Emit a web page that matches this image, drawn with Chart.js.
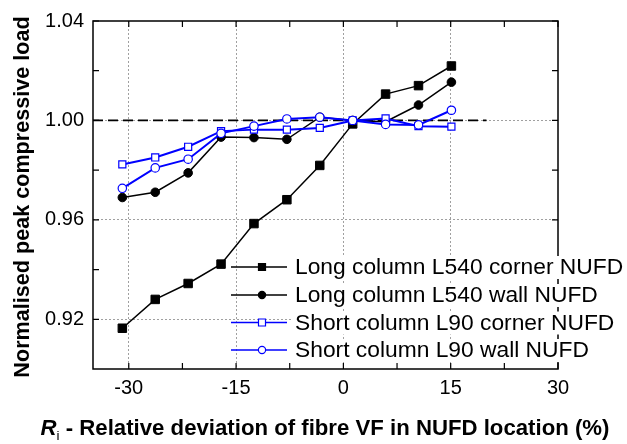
<!DOCTYPE html>
<html>
<head>
<meta charset="utf-8">
<script src="https://cdn.jsdelivr.net/npm/chart.js@4.4.1/dist/chart.umd.min.js"></script>
<style>
  html, body { margin: 0; padding: 0; background: #fff; }
  canvas { display: block; }
</style>
</head>
<body>
<canvas id="c" width="627" height="444"></canvas>
<script>
// ---- data ----
const xValues = [-30.9, -26.3, -21.7, -17.1, -12.5, -7.9, -3.3, 1.3, 5.9, 10.5, 15.1];
const longCorner  = [0.9164, 0.9280, 0.9344, 0.9422, 0.9585, 0.9681, 0.9819, 0.9986, 1.0106, 1.0140, 1.0219];
const longWall    = [0.9690, 0.9711, 0.9789, 0.9933, 0.9931, 0.9924, 1.0013, 1.0000, 0.9995, 1.0062, 1.0154];
const shortCorner = [0.9823, 0.9851, 0.9894, 0.9957, 0.9963, 0.9963, 0.9970, 1.0000, 1.0008, 0.9977, 0.9975];
const shortWall   = [0.9727, 0.9809, 0.9844, 0.9948, 0.9977, 1.0006, 1.0013, 1.0000, 0.9984, 0.9982, 1.0041];
const refLineX = [-35, 20];
const refLineY = [1.00, 1.00];
const seriesLabels = [
  'Long column L540 corner NUFD',
  'Long column L540 wall NUFD',
  'Short column L90 corner NUFD',
  'Short column L90 wall NUFD'
];
const xTickValues = [-30, -15, 0, 15, 30];
const xMinorTicks = [-22.5, -7.5, 7.5, 22.5];
const yTickValues = [0.92, 0.96, 1.00, 1.04];
const yMinorTicks = [0.94, 0.98, 1.02];
const xRange = [-35, 30];
const yRange = [0.90, 1.04];
const yTitle = 'Normalised peak compressive load';
const xTitleMain = 'R';
const xTitleSub = 'i';
const xTitleRest = ' - Relative deviation of fibre VF in NUFD location (%)';

const FONT = '"Liberation Sans", Arial, sans-serif';
const BLUE = '#0000ff';

function pts(ys) { return ys.map((y, i) => ({ x: xValues[i], y })); }

const datasets = [
  { label: seriesLabels[0], data: pts(longCorner), borderColor: '#000', backgroundColor: '#000',
    pointStyle: 'rect', pointRadius: 6, borderWidth: 1.5, pointBorderWidth: 1, order: 3 },
  { label: seriesLabels[1], data: pts(longWall), borderColor: '#000', backgroundColor: '#000',
    pointStyle: 'circle', pointRadius: 4.3, borderWidth: 1.5, pointBorderWidth: 1, order: 2 },
  { label: seriesLabels[2], data: pts(shortCorner), borderColor: BLUE, backgroundColor: '#fff',
    pointStyle: 'rect', pointRadius: 5, borderWidth: 2, pointBorderWidth: 1.2, order: 1 },
  { label: seriesLabels[3], data: pts(shortWall), borderColor: BLUE, backgroundColor: '#fff',
    pointStyle: 'circle', pointRadius: 4.2, borderWidth: 2, pointBorderWidth: 1.2, order: 0 },
  { label: 'ref', data: refLineX.map((x, i) => ({ x, y: refLineY[i] })), borderColor: '#000',
    borderWidth: 1.8, borderDash: [10, 5], pointRadius: 0, order: 5 }
];

const framePlugin = {
  id: 'frame',
  beforeDatasetsDraw(chart) {
    const { ctx, chartArea: a, scales: { x, y } } = chart;
    ctx.save();
    ctx.strokeStyle = '#000';
    ctx.lineWidth = 1.5;
    ctx.strokeRect(a.left, a.top, a.right - a.left, a.bottom - a.top);
    ctx.lineWidth = 1.2;
    const tl = 6;
    ctx.beginPath();
    xTickValues.concat(xMinorTicks).forEach(v => {
      const px = x.getPixelForValue(v);
      ctx.moveTo(px, a.bottom); ctx.lineTo(px, a.bottom - tl);
      ctx.moveTo(px, a.top); ctx.lineTo(px, a.top + tl);
    });
    yTickValues.concat(yMinorTicks).forEach(v => {
      const py = y.getPixelForValue(v);
      ctx.moveTo(a.left, py); ctx.lineTo(a.left + tl, py);
      ctx.moveTo(a.right, py); ctx.lineTo(a.right - tl, py);
    });
    ctx.stroke();
    ctx.restore();
  }
};

const legendPlugin = {
  id: 'customLegend',
  afterDatasetsDraw(chart) {
    const { ctx } = chart;
    const x0 = 231, x1 = 287, mx = 262, tx = 295;
    const rows = [267, 295, 322.5, 350];
    ctx.save();
    ctx.font = '22.8px ' + FONT;
    ctx.textBaseline = 'middle';
    ctx.textAlign = 'left';
    for (let i = 0; i < 4; i++) {
      const ds = chart.data.datasets[i];
      const yy = rows[i];
      const tw = ctx.measureText(ds.label).width;
      ctx.fillStyle = '#fff';
      ctx.fillRect(tx - 2, yy - 11, tw + 4, 23);
      ctx.strokeStyle = ds.borderColor;
      ctx.lineWidth = 1.6;
      ctx.beginPath(); ctx.moveTo(x0, yy); ctx.lineTo(x1, yy); ctx.stroke();
      ctx.fillStyle = ds.backgroundColor;
      ctx.lineWidth = 1.2;
      if (ds.pointStyle === 'rect') {
        ctx.beginPath(); ctx.rect(mx - 3.5, yy - 3.5, 7, 7); ctx.fill(); ctx.stroke();
      } else {
        ctx.beginPath(); ctx.arc(mx, yy, 3.6, 0, Math.PI * 2); ctx.fill(); ctx.stroke();
      }
      ctx.fillStyle = '#000';
      ctx.fillText(ds.label, tx, yy + 1);
    }
    ctx.restore();
  }
};

const titlesPlugin = {
  id: 'titles',
  afterDraw(chart) {
    const { ctx } = chart;
    ctx.save();
    ctx.fillStyle = '#000';
    // y title
    ctx.font = 'bold 21.6px ' + FONT;
    ctx.translate(23, 197);
    ctx.rotate(-Math.PI / 2);
    ctx.textAlign = 'center';
    ctx.textBaseline = 'middle';
    ctx.fillText(yTitle, 0, 0);
    ctx.restore();

    // x title with italic R and subscript i
    ctx.save();
    ctx.fillStyle = '#000';
    ctx.textBaseline = 'alphabetic';
    ctx.textAlign = 'left';
    const fMain = 'italic bold 22.2px ' + FONT;
    const fSub = '13.5px ' + FONT;
    const fRest = 'bold 22.2px ' + FONT;
    ctx.font = fMain; const w1 = ctx.measureText(xTitleMain).width;
    ctx.font = fSub; const w2 = ctx.measureText(xTitleSub).width;
    ctx.font = fRest; const w3 = ctx.measureText(xTitleRest).width;
    const total = w1 + w2 + w3;
    let cx = 325 - total / 2;
    const base = 435;
    ctx.font = fMain; ctx.fillText(xTitleMain, cx, base); cx += w1;
    ctx.font = fSub; ctx.fillText(xTitleSub, cx, base + 5); cx += w2;
    ctx.font = fRest; ctx.fillText(xTitleRest, cx, base);
    ctx.restore();
  }
};

new Chart(document.getElementById('c'), {
  type: 'line',
  data: { datasets },
  plugins: [framePlugin, legendPlugin, titlesPlugin],
  options: {
    responsive: false,
    animation: false,
    layout: { padding: { top: 19, right: 69, left: 0, bottom: 0 } },
    plugins: { legend: { display: false }, tooltip: { enabled: false } },
    elements: { line: { tension: 0 } },
    scales: {
      x: {
        type: 'linear', min: xRange[0], max: xRange[1],
        afterBuildTicks: s => { s.ticks = xTickValues.map(v => ({ value: v })); },
        afterFit: s => { s.height = 75; },
        ticks: { font: { family: FONT, size: 20 }, color: '#000', padding: 7,
                 callback: v => String(v) },
        grid: {
          drawTicks: false,
          color: c => (c.tick && c.tick.value === xRange[1]) ? 'rgba(0,0,0,0)' : '#a0a0a0',
          lineWidth: 1
        },
        border: { display: false, dash: [2, 2] }
      },
      y: {
        type: 'linear', min: yRange[0], max: yRange[1],
        afterBuildTicks: s => { s.ticks = yTickValues.map(v => ({ value: v })); },
        afterFit: s => { s.width = 93; },
        ticks: { font: { family: FONT, size: 20 }, color: '#000', padding: 9,
                 callback: v => Number(v).toFixed(2) },
        grid: {
          drawTicks: false,
          color: c => (c.tick && c.tick.value === yRange[1]) ? 'rgba(0,0,0,0)' : '#a0a0a0',
          lineWidth: 1
        },
        border: { display: false, dash: [2, 2] }
      }
    }
  }
});
</script>
</body>
</html>
